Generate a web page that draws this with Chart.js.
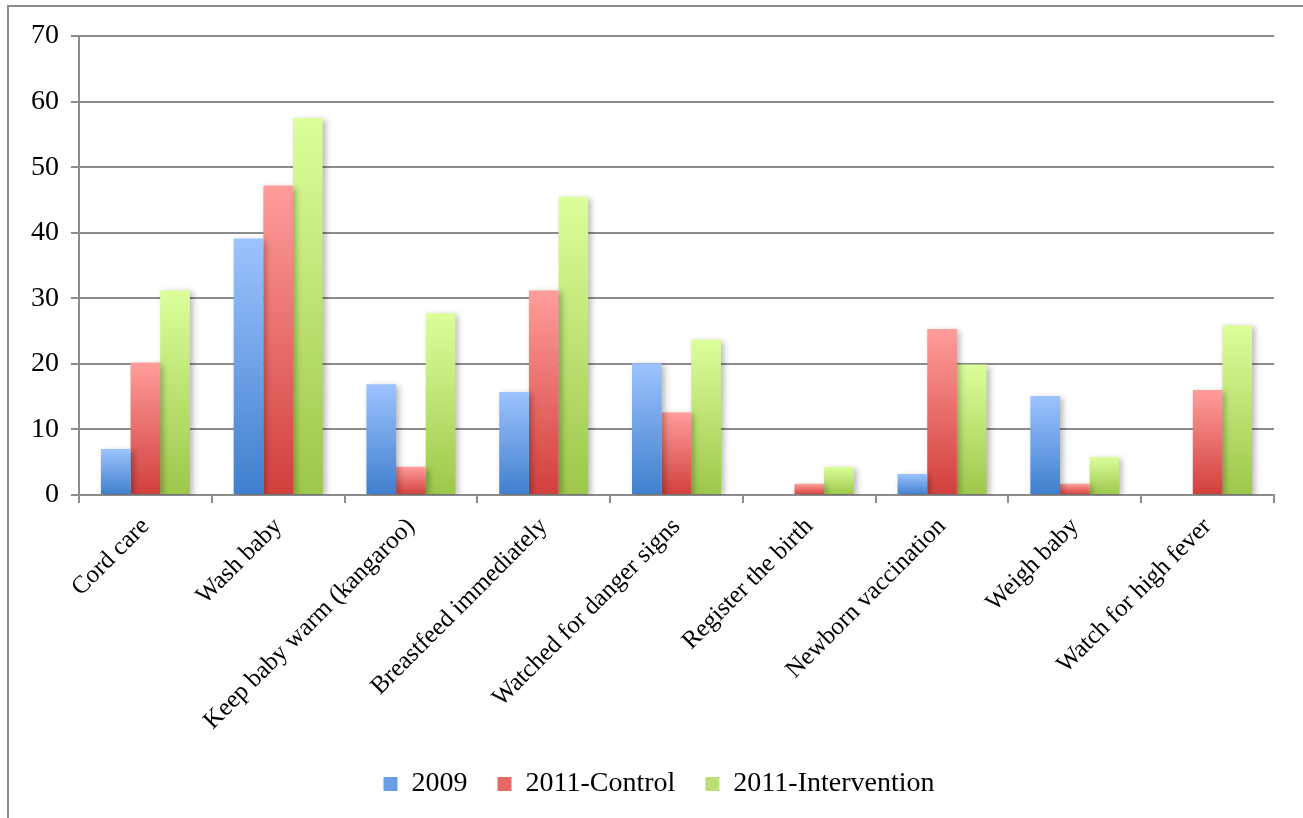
<!DOCTYPE html>
<html lang="en">
<head>
  <meta charset="UTF-8" />
  <title>Newborn care practices</title>
  <style>
    body {
      margin: 0;
      background: white;
      overflow: hidden;
    }
    .frame {
      position: absolute;
      left: 7px;
      top: 5px;
      width: 1400px;
      height: 900px;
      border: 2px solid #8c8c8c;
    }
    .wrap {
      position: absolute;
      left: 0;
      top: 0;
      width: 1303px;
      height: 818px;
    }
  </style>
</head>
<body>
  <div class="frame"></div>
  <div class="wrap"><canvas id="chart" width="1303" height="818"></canvas></div>

  <script src="https://cdn.jsdelivr.net/npm/chart.js"></script>
  <script>
    const categories = [
      "Cord care", "Wash baby", "Keep baby warm (kangaroo)", "Breastfeed immediately",
      "Watched for danger signs", "Register the birth", "Newborn vaccination",
      "Weigh baby", "Watch for high fever"
    ];
    const values2009 = [7.0, 39.1, 16.9, 15.7, 20.1, 0, 3.2, 15.1, 0];
    const valuesControl = [20.2, 47.2, 4.3, 31.2, 12.6, 1.7, 25.3, 1.7, 16.0];
    const valuesIntervention = [31.2, 57.5, 27.7, 45.5, 23.7, 4.3, 19.9, 5.8, 25.9];
    const yTicks = [0, 10, 20, 30, 40, 50, 60, 70];

    // light at the top of each bar, dark at the base
    function barFill(light, dark) {
      return function(c) {
        if (c.type !== "data" || !c.chart.chartArea) return dark;
        const y = c.chart.scales.y;
        const top = y.getPixelForValue(c.parsed.y);
        const bottom = y.getPixelForValue(0);
        if (bottom - top < 1) return dark;
        const g = c.chart.ctx.createLinearGradient(0, top, 0, bottom);
        g.addColorStop(0, light);
        g.addColorStop(1, dark);
        return g;
      };
    }

    const shadow = {
      id: "shadow",
      beforeDatasetsDraw(chart) {
        const ctx = chart.ctx;
        ctx.save();
        ctx.shadowColor = "rgba(0,0,0,0.28)";
        ctx.shadowBlur = 6;
        ctx.shadowOffsetX = 3;
        ctx.shadowOffsetY = 2;
      },
      afterDatasetsDraw(chart) {
        chart.ctx.restore();
      }
    };

    // legend sits centred on the page, not on the plot
    const legendShift = {
      id: "legendShift",
      afterLayout(chart) {
        if (chart.legend) {
          chart.legend.left += 22;
          chart.legend.right += 22;
        }
      }
    };

    const font = "'Liberation Serif', 'Times New Roman', serif";

    new Chart(document.getElementById("chart"), {
      type: "bar",
      data: {
        labels: categories,
        datasets: [
          { label: "2009", data: values2009, backgroundColor: barFill("#9dc3fe", "#3f7fcd") },
          { label: "2011-Control", data: valuesControl, backgroundColor: barFill("#ff9d9a", "#d13f3c") },
          { label: "2011-Intervention", data: valuesIntervention, backgroundColor: barFill("#dcfe9b", "#9dc74a") }
        ]
      },
      plugins: [shadow, legendShift],
      options: {
        responsive: false,
        animation: false,
        categoryPercentage: 0.67,
        barPercentage: 1.0,
        layout: { padding: { left: 0, right: 29, top: 36, bottom: 10 } },
        plugins: {
          legend: {
            position: "bottom",
            labels: {
              color: "#000",
              font: { family: font, size: 28 },
              boxWidth: 14,
              boxHeight: 14,
              padding: 30,
              generateLabels(chart) {
                const cols = ["#6a9de6", "#e46a67", "#bde074"];
                return chart.data.datasets.map((d, i) => ({
                  text: d.label,
                  fillStyle: cols[i],
                  strokeStyle: cols[i],
                  lineWidth: 0,
                  datasetIndex: i,
                  fontColor: "#000"
                }));
              }
            }
          },
          tooltip: { enabled: false }
        },
        scales: {
          x: {
            afterFit(scale) { scale.height = 245; },
            grid: {
              drawOnChartArea: false,
              drawTicks: true,
              tickLength: 8,
              color: "#8c8c8c",
              lineWidth: 2
            },
            border: { color: "#8c8c8c", width: 2 },
            ticks: {
              color: "#000",
              font: { family: font, size: 25 },
              minRotation: 45,
              maxRotation: 45,
              padding: 9
            }
          },
          y: {
            min: 0,
            max: 70,
            afterFit(scale) { scale.width = 79; },
            afterBuildTicks(scale) { scale.ticks = yTicks.map(v => ({ value: v })); },
            grid: {
              color: "#8c8c8c",
              lineWidth: 2,
              tickLength: 8
            },
            border: { color: "#8c8c8c", width: 2 },
            ticks: {
              color: "#000",
              font: { family: font, size: 28 },
              padding: 12
            }
          }
        }
      }
    });
  </script>
</body>
</html>
